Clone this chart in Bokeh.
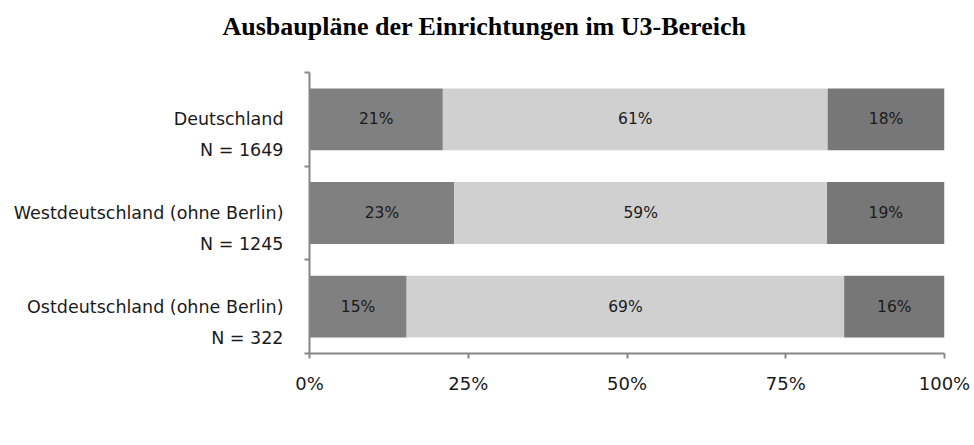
from bokeh.plotting import figure
from bokeh.models import (Range1d, FixedTicker, ColumnDataSource, LabelSet,
                          Legend, LegendItem, Title)
from bokeh.embed import file_html
from bokeh.resources import INLINE
from bokeh.core.properties import value

# ---- data ----
chart_title = "Ausbaupläne der Einrichtungen im U3-Bereich"
regions = ["Deutschland", "Westdeutschland (ohne Berlin)", "Ostdeutschland (ohne Berlin)"]
sample_sizes = ["N = 1649", "N = 1245", "N = 322"]
series_names = ["Ja", "Nein", "Noch nicht bekannt"]
ja = [21.0, 22.8, 15.3]
nein = [60.6, 58.7, 68.9]
noch = [18.4, 18.5, 15.8]
ja_labels = ["21%", "23%", "15%"]
nein_labels = ["61%", "59%", "69%"]
noch_labels = ["18%", "19%", "16%"]
x_ticks = [0, 25, 50, 75, 100]
x_tick_labels = ["0%", "25%", "50%", "75%", "100%"]

# ---- styles ----
colors = ["#808080", "#d0d0d0", "#777777"]
FONT = "DejaVu Sans"
TXT = "#1a1a1a"
AXIS = "#868686"
N_SHIFT = 0.33   # second label line sits below the category centre

n = len(regions)
ypos = [n - i - 0.5 for i in range(n)]

p = figure(width=974, height=445, frame_width=635, frame_height=281,
           x_range=Range1d(0, 100), y_range=Range1d(0, n), title=None,
           output_backend="svg", toolbar_location=None,
           min_border_left=309, min_border_right=30, min_border_top=72, min_border_bottom=92)
p.outline_line_color = None
p.xgrid.visible = False
p.ygrid.visible = False
p.background_fill_color = "white"
p.border_fill_color = "white"

# title (a thin spacer keeps it clear of the plot area)
p.add_layout(Title(text=" ", text_font_size="1px", standoff=24), "above")
p.add_layout(Title(text=chart_title, text_font="Liberation Serif", text_font_style="bold",
                   text_font_size="26px", text_color="black", align="left",
                   offset=-87, standoff=10), "above")

series = [ja, nein, noch]
labels = [ja_labels, nein_labels, noch_labels]
left = [0.0] * n
renderers = []
for vals, labs, col in zip(series, labels, colors):
    right = [l + v for l, v in zip(left, vals)]
    mid = [(l + r) / 2 for l, r in zip(left, right)]
    src = ColumnDataSource(dict(y=ypos, left=left, right=right, mid=mid, lab=labs))
    r = p.hbar(y="y", left="left", right="right", height=0.66, source=src,
               fill_color=col, line_color=None)
    renderers.append(r)
    p.add_layout(LabelSet(x="mid", y="y", text="lab", source=src, text_align="center",
                          text_baseline="middle", text_font=value(FONT),
                          text_font_size="15.5px", text_color=TXT))
    left = right

# x axis
p.xaxis.ticker = FixedTicker(ticks=x_ticks)
p.xaxis.major_label_overrides = {t: s for t, s in zip(x_ticks, x_tick_labels)}
p.xaxis.major_label_text_font = FONT
p.xaxis.major_label_text_font_size = "18px"
p.xaxis.major_label_text_color = TXT
p.xaxis.major_label_standoff = 14
p.xaxis.minor_tick_line_color = None
p.xaxis.major_tick_in = 0
p.xaxis.major_tick_out = 5
p.xaxis.axis_line_color = AXIS
p.xaxis.axis_line_width = 2
p.xaxis.major_tick_line_color = AXIS
p.xaxis.major_tick_line_width = 2

# y axis: category names and sample sizes as labels, boundaries as minor ticks
name_ticks = [float(y) for y in ypos]
n_ticks = [round(y - N_SHIFT, 3) for y in ypos]
overrides = {}
for t, s in zip(name_ticks, regions):
    overrides[t] = s
for t, s in zip(n_ticks, sample_sizes):
    overrides[t] = s
p.yaxis.ticker = FixedTicker(ticks=sorted(name_ticks + n_ticks),
                             minor_ticks=[float(i) for i in range(n + 1)])
p.yaxis.major_label_overrides = overrides
p.yaxis.major_label_text_font = FONT
p.yaxis.major_label_text_font_size = "17.5px"
p.yaxis.major_label_text_color = TXT
p.yaxis.major_label_standoff = 21
p.yaxis.major_tick_in = 0
p.yaxis.major_tick_out = 0
p.yaxis.major_tick_line_color = None
p.yaxis.minor_tick_in = 0
p.yaxis.minor_tick_out = 5
p.yaxis.minor_tick_line_color = AXIS
p.yaxis.minor_tick_line_width = 2
p.yaxis.axis_line_color = AXIS
p.yaxis.axis_line_width = 2

legend = Legend(items=[LegendItem(label=nm, renderers=[r]) for nm, r in zip(series_names, renderers)],
                location=(42, 4), orientation="horizontal", padding=0, margin=0, spacing=95,
                glyph_width=9, glyph_height=9, label_standoff=5, label_width=0,
                label_text_font=FONT, label_text_font_size="17px",
                label_text_color=TXT, label_height=16,
                border_line_color=None, background_fill_alpha=0)
p.add_layout(legend, "below")

open("out.html", "w").write(file_html(p, INLINE))
